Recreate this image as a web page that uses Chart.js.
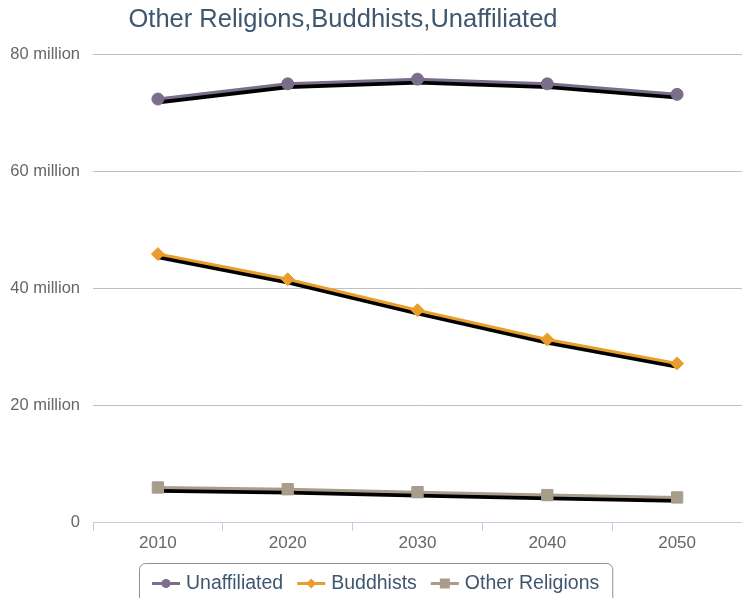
<!DOCTYPE html>
<html lang="en">
  <head>
    <meta charset="UTF-8" />
    <title>Other Religions,Buddhists,Unaffiliated</title>
    <script src="https://cdn.jsdelivr.net/npm/chart.js"></script>
    <style>
      html,
      body {
        margin: 0;
        padding: 0;
        background-color: #ffffff;
      }
    </style>
  </head>
  <body>
    <canvas id="myChart" width="742" height="598"></canvas>
    <script>
      const years = ["2010", "2020", "2030", "2040", "2050"];
      // values in millions
      const unaffiliated = [72.3, 74.9, 75.7, 74.9, 73.1];
      const buddhists = [45.8, 41.5, 36.2, 31.2, 27.1];
      const otherReligions = [5.9, 5.6, 5.1, 4.6, 4.2];
      const yTicks = [0, 20, 40, 60, 80];
      const chartTitle = "Other Religions,Buddhists,Unaffiliated";

      const fontFamily = "'Liberation Sans', Arial, Helvetica, sans-serif";

      // black offset line under every series
      const lineShadow = {
        id: "lineShadow",
        beforeDatasetsDraw(chart) {
          const ctx = chart.ctx;
          ctx.save();
          ctx.strokeStyle = "#000000";
          ctx.lineWidth = 5.5;
          ctx.lineJoin = "round";
          chart.data.datasets.forEach((ds, i) => {
            const meta = chart.getDatasetMeta(i);
            ctx.beginPath();
            meta.data.forEach((pt, j) => {
              if (j === 0) ctx.moveTo(pt.x + 1, pt.y + 2.5);
              else ctx.lineTo(pt.x + 1, pt.y + 2.5);
            });
            ctx.stroke();
          });
          ctx.restore();
        },
      };

      function drawMarker(ctx, style, x, y, r) {
        ctx.beginPath();
        if (style === "circle") {
          ctx.arc(x, y, r, 0, Math.PI * 2);
        } else if (style === "rectRot") {
          ctx.moveTo(x, y - r);
          ctx.lineTo(x + r, y);
          ctx.lineTo(x, y + r);
          ctx.lineTo(x - r, y);
          ctx.closePath();
        } else {
          ctx.rect(x - r, y - r, r * 2, r * 2);
        }
        ctx.fill();
      }

      // title + boxed legend like the original
      const titleAndLegend = {
        id: "titleAndLegend",
        afterDraw(chart) {
          const ctx = chart.ctx;
          ctx.save();

          ctx.fillStyle = "#3e576f";
          ctx.font = "25.5px " + fontFamily;
          ctx.textAlign = "center";
          ctx.textBaseline = "middle";
          ctx.fillText(chartTitle, 343, 20);

          ctx.font = "19.5px " + fontFamily;
          ctx.textAlign = "left";
          const sym = 28,
            gapText = 6,
            gapItem = 14,
            pad = 13;
          const items = chart.data.datasets.map((ds) => ({
            ds,
            w: ctx.measureText(ds.label).width,
          }));
          const total =
            items.reduce((s, it) => s + sym + gapText + it.w, 0) +
            gapItem * (items.length - 1);
          const boxW = total + pad * 2;
          const left = Math.round(376 - boxW / 2);
          const top = 563;
          const cy = 583.5;

          ctx.strokeStyle = "#909090";
          ctx.lineWidth = 1;
          ctx.beginPath();
          ctx.roundRect(left + 0.5, top + 0.5, boxW, 60, 6);
          ctx.stroke();

          let x = left + pad;
          items.forEach((it) => {
            const ds = it.ds;
            ctx.strokeStyle = ds.borderColor;
            ctx.lineWidth = 3;
            ctx.beginPath();
            ctx.moveTo(x, cy);
            ctx.lineTo(x + sym, cy);
            ctx.stroke();
            ctx.fillStyle = ds.pointBackgroundColor;
            const r = ds.pointStyle === "circle" ? 4.5 : 5;
            drawMarker(ctx, ds.pointStyle, x + sym / 2, cy, r);
            ctx.fillStyle = "#3e576f";
            ctx.fillText(ds.label, x + sym + gapText, cy);
            x += sym + gapText + it.w + gapItem;
          });
          ctx.restore();
        },
      };

      const ctx = document.getElementById("myChart").getContext("2d");
      const myChart = new Chart(ctx, {
        type: "line",
        data: {
          labels: years,
          datasets: [
            {
              label: "Unaffiliated",
              data: unaffiliated,
              borderColor: "#7a6e8a",
              pointBackgroundColor: "#7a6e8a",
              pointStyle: "circle",
              pointRadius: 6,
            },
            {
              label: "Buddhists",
              data: buddhists,
              borderColor: "#e99e2c",
              pointBackgroundColor: "#e99e2c",
              pointStyle: "rectRot",
              pointRadius: 6.5,
            },
            {
              label: "Other Religions",
              data: otherReligions,
              borderColor: "#a89c8b",
              pointBackgroundColor: "#a89c8b",
              pointStyle: "rect",
              pointRadius: 8,
            },
          ],
        },
        options: {
          responsive: false,
          animation: false,
          layout: {
            autoPadding: false,
            padding: { top: 54, right: 0, bottom: 36, left: 0 },
          },
          elements: {
            line: { borderWidth: 3, tension: 0 },
            point: { borderColor: "#ffffff", borderWidth: 1, hoverRadius: 7 },
          },
          plugins: {
            legend: { display: false },
            title: { display: false },
          },
          scales: {
            x: {
              offset: true,
              afterFit(scale) {
                scale.height = 40;
                scale.paddingLeft = 0;
                scale.paddingRight = 0;
              },
              grid: {
                offset: true,
                drawOnChartArea: false,
                drawTicks: true,
                tickLength: 9,
                color: "#c0d0e0",
              },
              border: { color: "#c0d0e0", width: 1 },
              ticks: {
                padding: 2,
                color: "#666666",
                font: { family: fontFamily, size: 17 },
              },
            },
            y: {
              min: yTicks[0],
              max: yTicks[yTicks.length - 1],
              afterFit(scale) {
                scale.width = 93;
              },
              afterBuildTicks(scale) {
                scale.ticks = yTicks.map((v) => ({ value: v }));
              },
              grid: { color: "#c0c0c0", drawTicks: false },
              border: { display: false },
              ticks: {
                padding: 13,
                color: "#666666",
                font: { family: fontFamily, size: 16.5 },
                callback: (v) => (v === 0 ? "0" : v + " million"),
              },
            },
          },
        },
        plugins: [lineShadow, titleAndLegend],
      });
    </script>
  </body>
</html>
